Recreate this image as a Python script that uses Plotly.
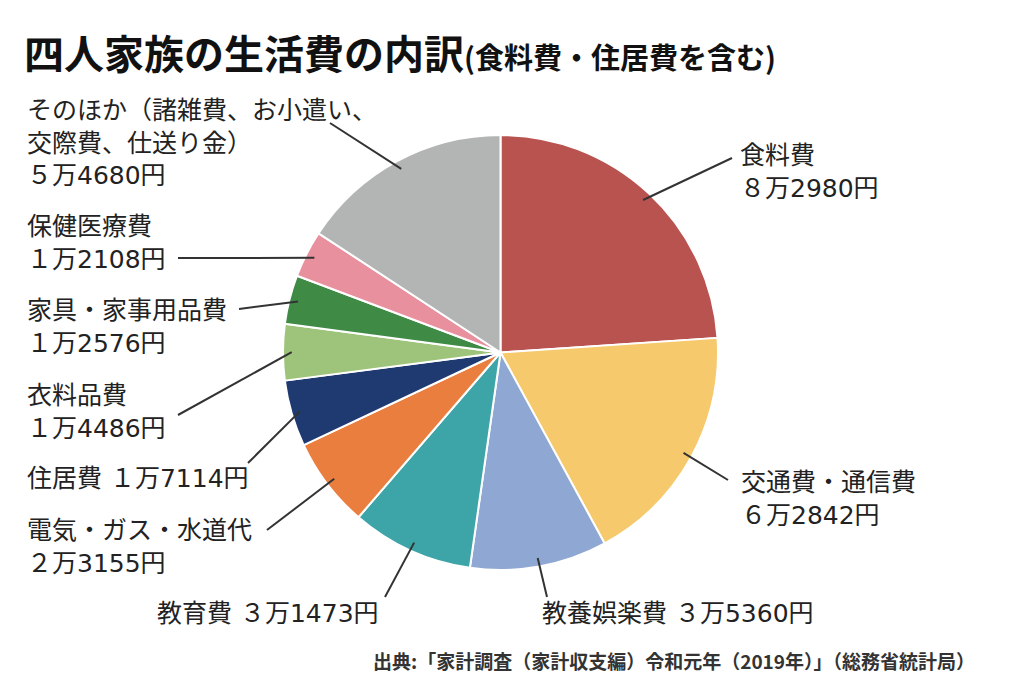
import math
import plotly.graph_objects as go

# ---------------- data ----------------
categories = ["食料費", "交通費・通信費", "教養娯楽費", "教育費", "電気・ガス・水道代",
              "住居費", "衣料品費", "家具・家事用品費", "保健医療費", "そのほか"]
values = [82980, 62842, 35360, 31473, 23155, 17114, 14486, 12576, 12108, 54680]
display_names = [
    ["食料費"],
    ["交通費・通信費"],
    ["教養娯楽費"],
    ["教育費"],
    ["電気・ガス・水道代"],
    ["住居費"],
    ["衣料品費"],
    ["家具・家事用品費"],
    ["保健医療費"],
    ["そのほか（諸雑費、お小遣い、", "交際費、仕送り金）"],
]
colors = ["#B95350", "#F5C96C", "#8FA8D3", "#3DA4A7", "#E97E3F",
          "#1E3A71", "#9EC47B", "#3F8B46", "#E8909E", "#B3B4B4"]

title_main = "四人家族の生活費の内訳"
title_sub = "(食料費・住居費を含む)"
source_text = "出典:「家計調査（家計収支編）令和元年（2019年）」（総務省統計局）"

# ---------------- layout (pixel positions) ----------------
W, H = 1024, 696
CX, CY, R = 500.5, 352.5, 217.5
# per category: text left x, y-center of text block, inline value?, leader outer end
label_layout = [
    dict(x=738, yc=172, inline=False, end=(732, 158)),
    dict(x=739, yc=499, inline=False, end=(728, 480)),
    dict(x=540, yc=613, inline=True, end=(547, 597)),
    dict(x=155, yc=613, inline=True, end=(385, 597)),
    dict(x=25, yc=547, inline=False, end=(267, 530)),
    dict(x=25, yc=478, inline=True, end=(248, 463)),
    dict(x=25, yc=412, inline=False, end=(178, 415)),
    dict(x=25, yc=327, inline=False, end=(239, 309)),
    dict(x=25, yc=243, inline=False, end=(178, 258)),
    dict(x=25, yc=143, inline=False, end=(330, 123)),
]

FONT = "DejaVu Sans, Noto Sans CJK JP, sans-serif"
CJK = "Noto Sans CJK JP, Noto Sans, sans-serif"
TXT = "#222222"


def yen(v):
    man, rest = divmod(v, 10000)
    fw = str(man).translate(str.maketrans("0123456789", "０１２３４５６７８９"))
    return f"{fw}万{rest}円"


def px(x, y):
    return x / W, 1 - y / H


fig = go.Figure()
fig.add_trace(go.Pie(
    labels=categories, values=values, sort=False, direction="clockwise",
    rotation=0, marker=dict(colors=colors, line=dict(color="white", width=2)),
    textinfo="none", showlegend=False, hoverinfo="label+value",
    domain=dict(x=[(CX - R) / W, (CX + R) / W], y=[1 - (CY + R) / H, 1 - (CY - R) / H]),
))

total = sum(values)
annotations = []
shapes = []
cum = 0
for i, v in enumerate(values):
    mid = (cum + v / 2) / total * 2 * math.pi
    cum += v
    ix = CX + 0.96 * R * math.sin(mid)
    iy = CY - 0.96 * R * math.cos(mid)
    L = label_layout[i]
    ox, oy = L["end"]
    x0, y0 = px(ix, iy)
    x1, y1 = px(ox, oy)
    shapes.append(dict(type="line", xref="paper", yref="paper", x0=x0, y0=y0, x1=x1, y1=y1,
                       line=dict(color="#333333", width=2)))
    if L["inline"]:
        lines = [display_names[i][0] + " " + yen(v)]
    else:
        lines = display_names[i] + [yen(v)]
    ax, ay = px(L["x"], L["yc"])
    annotations.append(dict(text="<br>".join(lines), x=ax, y=ay, xref="paper", yref="paper",
                            xanchor="left", yanchor="middle", align="left", showarrow=False,
                            font=dict(family=FONT, size=25, color=TXT)))

tx, ty = px(22, 52)
annotations.append(dict(
    text=f"<b>{title_main}</b><span style='font-size:29px'><b>{title_sub}</b></span>",
    x=tx, y=ty, xref="paper", yref="paper", xanchor="left", yanchor="middle",
    showarrow=False, font=dict(family=CJK, size=40, color="#111111")))
sx, sy = px(977, 660)
annotations.append(dict(text=f"<b>{source_text}</b>", x=sx, y=sy, xref="paper", yref="paper",
                        xanchor="right", yanchor="middle", showarrow=False,
                        font=dict(family=CJK, size=19, color="#333333")))

fig.update_layout(width=W, height=H, margin=dict(l=0, r=0, t=0, b=0),
                  paper_bgcolor="white", plot_bgcolor="white",
                  annotations=annotations, shapes=shapes)
fig.write_html("out.html")
